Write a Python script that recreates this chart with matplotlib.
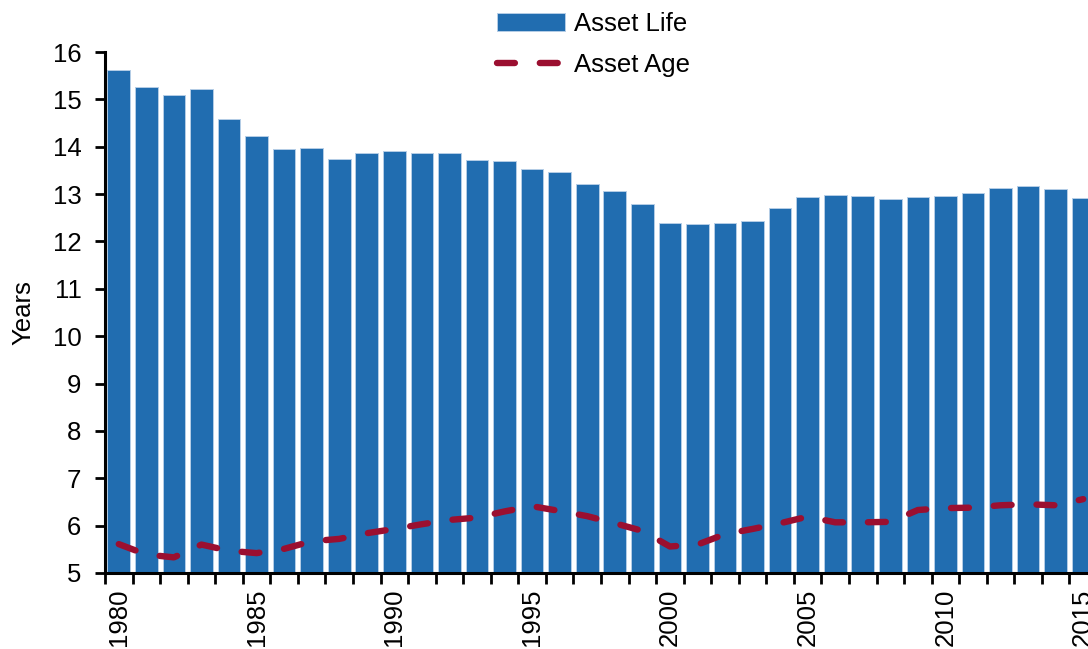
import matplotlib
matplotlib.use("Agg")
import matplotlib.pyplot as plt
import numpy as np

plt.rcParams['font.family'] = ['Liberation Sans', 'DejaVu Sans']

years = list(range(1980, 2016))
asset_life = [15.63, 15.26, 15.10, 15.22, 14.59, 14.22, 13.96, 13.97, 13.75, 13.87,
              13.91, 13.87, 13.86, 13.73, 13.70, 13.54, 13.47, 13.22, 13.06, 12.80,
              12.38, 12.37, 12.40, 12.43, 12.71, 12.94, 12.98, 12.97, 12.90, 12.94,
              12.95, 13.02, 13.13, 13.18, 13.11, 12.92]
asset_age = [5.61, 5.39, 5.33, 5.60, 5.47, 5.42, 5.51, 5.67, 5.72, 5.84,
             5.93, 6.03, 6.12, 6.17, 6.30, 6.41, 6.31, 6.20, 6.05, 5.89,
             5.56, 5.60, 5.82, 5.93, 6.05, 6.19, 6.07, 6.07, 6.08, 6.33,
             6.37, 6.38, 6.43, 6.45, 6.43, 6.56]
tick_years = [1980, 1985, 1990, 1995, 2000, 2005, 2010, 2015]

W, H = 1088, 649
fs = 18.5
fig = plt.figure(figsize=(W / 100, H / 100), dpi=100)
left, right, top, bottom = 105, 1097, 52, 573
ax = fig.add_axes([left / W, (H - bottom) / H, (right - left) / W, (bottom - top) / H])

x = np.arange(len(years))
bar_color = '#216db0'
line_color = '#9b0f30'
bars = ax.bar(x, np.array(asset_life) - 5, bottom=5, width=0.82, color=bar_color,
              edgecolor='#b5cde6', linewidth=0.7, label='Asset Life', zorder=2)
lw = 4.6
line, = ax.plot(x, asset_age, color=line_color, lw=lw, dash_capstyle='round',
                linestyle=(0, (2.8, 3.9)), label='Asset Age', zorder=3)

ax.set_xlim(-0.5, len(years) - 0.5)
ax.set_ylim(5, 16)
ax.set_yticks(range(5, 17))
ax.tick_params(axis='y', labelsize=fs, length=7, width=2, direction='out', pad=10)

# category axis: ticks at boundaries, labels at every fifth year
ax.set_xticks(np.arange(-0.5, len(years), 1.0))
ax.set_xticklabels([])
ax.tick_params(axis='x', which='major', length=8, width=2, direction='out')
ax.set_xticks([years.index(y) for y in tick_years], minor=True)
ax.set_xticklabels([str(y) for y in tick_years], minor=True, rotation=90, fontsize=fs)
ax.tick_params(axis='x', which='minor', length=0, pad=11)

for s in ['top', 'right']:
    ax.spines[s].set_visible(False)
for s in ['left', 'bottom']:
    ax.spines[s].set_linewidth(2.2)
    ax.spines[s].set_color('black')

ax.set_ylabel('Years', fontsize=fs)
ax.yaxis.set_label_coords((35 - left) / (right - left), 0.5)

leg = fig.legend(handles=[bars, line], loc='upper left', bbox_to_anchor=(479 / W, 1 + 6 / H),
                 frameon=False, fontsize=fs, handlelength=2.65, handletextpad=0.35,
                 labelspacing=0.65, borderpad=0.2)

fig.savefig('out.png', dpi=100)
